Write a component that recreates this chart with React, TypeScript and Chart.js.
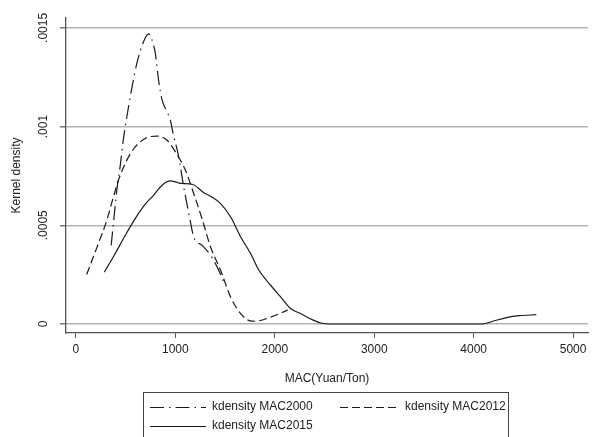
import React, { useEffect, useRef } from "react";
import { Chart, registerables } from "chart.js";

Chart.register(...registerables);

// ---- data ----
const xTicks = [0, 1000, 2000, 3000, 4000, 5000];
const yTicks = [0, 0.0005, 0.001, 0.0015];
const yTickLabels = ["0", ".0005", ".001", ".0015"];
const seriesNames = ["kdensity MAC2000", "kdensity MAC2012", "kdensity MAC2015"];
const xTitle = "MAC(Yuan/Ton)";
const yTitle = "Kernel density";

const mac2000X = [354, 377, 411, 444, 478, 512, 562, 613, 680, 730, 765, 798, 831, 866, 916, 949, 977, 1033, 1084, 1135, 1185, 1270, 1354, 1421, 1490];
const mac2000Y = [0.000398, 0.00051, 0.000678, 0.000796, 0.000939, 0.00105, 0.001194, 0.001321, 0.00143, 0.00147, 0.001439, 0.001372, 0.001236, 0.001135, 0.001075, 0.001033, 0.000966, 0.000847, 0.000694, 0.000561, 0.000441, 0.000398, 0.000348, 0.000288, 0.00021];

const mac2012X = [108, 225, 310, 377, 427, 512, 596, 697, 815, 916, 1000, 1101, 1185, 1270, 1354, 1455, 1556, 1657, 1750, 1800, 1960, 2130];
const mac2012Y = [0.000251, 0.000407, 0.000525, 0.000644, 0.000728, 0.00083, 0.000897, 0.00094, 0.000952, 0.000931, 0.000872, 0.000779, 0.00066, 0.00053, 0.00039, 0.000272, 0.000136, 0.000052, 0.000016, 0.000014, 0.000035, 0.00007];

const mac2015X = [286, 394, 495, 596, 697, 781, 866, 949, 1000, 1051, 1169, 1286, 1354, 1455, 1556, 1657, 1758, 1841, 1960, 2061, 2162, 2263, 2381, 2465, 2550, 3000, 3500, 4000, 4090, 4200, 4330, 4460, 4630];
const mac2015Y = [0.000263, 0.000356, 0.000448, 0.000534, 0.000607, 0.000652, 0.000703, 0.000725, 0.00072, 0.000712, 0.000708, 0.000665, 0.000647, 0.00061, 0.000542, 0.000441, 0.000356, 0.000272, 0.000195, 0.000136, 0.000077, 0.000052, 0.000021, 0.000005, 0, 0, 0, 0, 0, 0.000015, 0.000032, 0.000042, 0.000047];

const FONT = '"Liberation Sans", Arial, sans-serif';
const LINE = "#1a1a1a";
const dashes: number[][] = [[14, 5, 1.5, 5], [8, 4], []];

const toPts = (xs: number[], ys: number[]) => xs.map((x, i) => ({ x, y: ys[i] }));

const decor = {
  id: "decor",
  afterDraw(chart: any) {
    const ctx = chart.ctx as CanvasRenderingContext2D;
    const ys = chart.scales.y;
    const area = chart.chartArea;
    ctx.save();
    ctx.fillStyle = "#222";
    ctx.font = `12px ${FONT}`;
    ctx.textAlign = "center";
    ctx.textBaseline = "middle";
    yTicks.forEach((v, i) => {
      const py = ys.getPixelForValue(v);
      ctx.save();
      ctx.translate(44, py);
      ctx.rotate(-Math.PI / 2);
      ctx.fillText(yTickLabels[i], 0, 0);
      ctx.restore();
    });
    ctx.save();
    ctx.translate(17, (area.top + area.bottom) / 2);
    ctx.rotate(-Math.PI / 2);
    ctx.fillText(yTitle, 0, 0);
    ctx.restore();
    ctx.fillText(xTitle, (area.left + area.right) / 2, 379);

    // legend
    ctx.strokeStyle = "#444";
    ctx.lineWidth = 1;
    ctx.strokeRect(143.5, 392.5, 365, 80);
    const items = [
      { sx: 150, tx: 212, y: 407 },
      { sx: 340, tx: 405, y: 407 },
      { sx: 150, tx: 212, y: 426 },
    ];
    items.forEach((it, i) => {
      const ds = chart.data.datasets[i];
      ctx.save();
      ctx.strokeStyle = ds.borderColor;
      ctx.lineWidth = ds.borderWidth;
      ctx.setLineDash(ds.borderDash || []);
      ctx.beginPath();
      ctx.moveTo(it.sx, it.y + 0.5);
      ctx.lineTo(it.sx + 56, it.y + 0.5);
      ctx.stroke();
      ctx.restore();
      ctx.textAlign = "left";
      ctx.fillText(seriesNames[i], it.tx, it.y);
    });
    ctx.restore();
  },
};

export default function App() {
  const ref = useRef<HTMLCanvasElement>(null);
  useEffect(() => {
    if (!ref.current) return;
    const mk = (i: number, xs: number[], yv: number[]) => ({
      label: seriesNames[i],
      data: toPts(xs, yv),
      borderColor: LINE,
      borderWidth: 1.2,
      borderDash: dashes[i],
      pointRadius: 0,
      fill: false,
      cubicInterpolationMode: "monotone" as const,
    });
    const chart = new Chart(ref.current, {
      type: "line",
      data: {
        datasets: [mk(0, mac2000X, mac2000Y), mk(1, mac2012X, mac2012Y), mk(2, mac2015X, mac2015Y)],
      },
      options: {
        animation: false,
        responsive: false,
        layout: { padding: { top: 18, right: 16, left: 0, bottom: 0 } },
        plugins: { legend: { display: false }, tooltip: { enabled: false } },
        scales: {
          x: {
            type: "linear",
            min: -100,
            max: 5150,
            afterBuildTicks: (s: any) => { s.ticks = xTicks.map((v) => ({ value: v })); },
            afterFit: (s: any) => { s.height = 104; s.paddingLeft = 0; s.paddingRight = 0; },
            ticks: { font: { family: FONT, size: 12 }, color: "#222", padding: 4, maxRotation: 0, autoSkip: false, callback: (v: any) => String(v) },
            grid: { drawOnChartArea: false, drawTicks: true, tickLength: 5, tickColor: "#555", lineWidth: 1 },
            border: { display: true, color: "#555", width: 1.3 },
          },
          y: {
            type: "linear",
            min: -0.0000456,
            max: 0.00155,
            afterBuildTicks: (s: any) => { s.ticks = yTicks.map((v) => ({ value: v })); },
            afterFit: (s: any) => { s.width = 66; s.paddingTop = 0; s.paddingBottom = 0; },
            ticks: { display: false },
            grid: { color: "#b3b3b3", lineWidth: 1.5, drawTicks: true, tickLength: 6, tickColor: "#777" },
            border: { display: true, color: "#555", width: 1.3 },
          },
        },
      },
      plugins: [decor],
    });
    return () => chart.destroy();
  }, []);
  return (
    <div style={{ position: "fixed", left: 0, top: 0, width: 604, height: 437, background: "#fff" }}>
      <canvas ref={ref} width={604} height={437} style={{ display: "block" }} />
    </div>
  );
}
